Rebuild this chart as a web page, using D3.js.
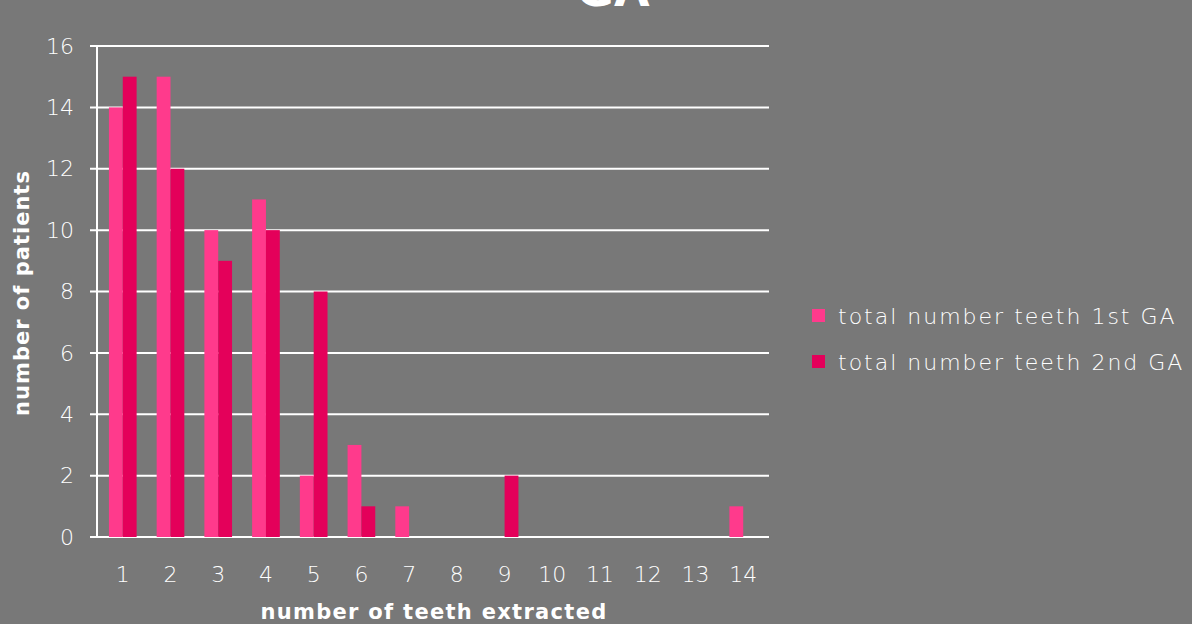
<!DOCTYPE html>
<html>
<head>
<meta charset="utf-8">
<script src="https://cdn.jsdelivr.net/npm/d3@7"></script>
<style>
  body { margin: 0; background: #787878; }
  text { font-family: "DejaVu Sans", sans-serif; fill: #fff; }
</style>
</head>
<body>
<div id="chart"></div>
<script>
// data
var categories = ["1","2","3","4","5","6","7","8","9","10","11","12","13","14"]
var seriesNames = ["total number teeth 1st GA", "total number teeth 2nd GA"]
var firstGA  = [14, 15, 10, 11, 2, 3, 1, 0, 0, 0, 0, 0, 0, 1]
var secondGA = [15, 12, 9, 10, 8, 1, 0, 0, 2, 0, 0, 0, 0, 0]
var yTicks = [0, 2, 4, 6, 8, 10, 12, 14, 16]

var colors = ["#ff3a8c", "#e4005a"]

var W = 1192, H = 624
var pLeft = 97, pRight = 769, pTop = 46, pBottom = 537

var svg = d3.select("#chart").append("svg")
    .attr("width", W)
    .attr("height", H)

svg.append("rect").attr("width", W).attr("height", H).attr("fill", "#787878")

var x = d3.scaleBand().domain(categories).range([pLeft, pRight]).paddingInner(0.42).paddingOuter(0.25)
var xs = d3.scaleBand().domain([0, 1]).range([0, x.bandwidth()])
var y = d3.scaleLinear().domain([0, 16]).range([pBottom, pTop])

// gridlines
svg.selectAll(".grid").data(yTicks)
    .enter().append("line")
    .attr("class", "grid")
    .attr("x1", pLeft - 7)
    .attr("x2", pRight)
    .attr("y1", function(d){return y(d)})
    .attr("y2", function(d){return y(d)})
    .attr("stroke", "#fff")
    .attr("stroke-width", 2)

svg.append("line")
    .attr("x1", pLeft).attr("x2", pLeft)
    .attr("y1", pTop).attr("y2", pBottom)
    .attr("stroke", "#fff").attr("stroke-width", 2)

// y tick labels
svg.selectAll(".ylab").data(yTicks)
    .enter().append("text")
    .attr("class", "ylab")
    .attr("x", 74)
    .attr("y", function(d){return y(d)})
    .attr("dy", "0.35em")
    .attr("text-anchor", "end")
    .style("font-size", "22px")
    .style("font-weight", 200)
    .text(function(d){return d})

// x tick labels
svg.selectAll(".xlab").data(categories)
    .enter().append("text")
    .attr("class", "xlab")
    .attr("x", function(d){return x(d) + x.bandwidth()/2})
    .attr("y", 574)
    .attr("dy", "0.35em")
    .attr("text-anchor", "middle")
    .style("font-size", "22px")
    .style("font-weight", 200)
    .text(function(d){return d})

// bars
var series = [firstGA, secondGA]
series.forEach(function(vals, s){
    svg.selectAll(".bar" + s).data(vals)
        .enter().append("rect")
        .attr("class", "bar" + s)
        .attr("x", function(d,i){return x(categories[i]) + xs(s)})
        .attr("width", xs.bandwidth())
        .attr("y", function(d){return y(d)})
        .attr("height", function(d){return y(0) - y(d)})
        .attr("fill", colors[s])
})

// axis titles
svg.append("text")
    .attr("x", 434)
    .attr("y", 612)
    .attr("dy", "0.35em")
    .attr("text-anchor", "middle")
    .style("font-size", "21px")
    .style("font-weight", "bold")
    .style("letter-spacing", "1.3px")
    .text("number of teeth extracted")

svg.append("text")
    .attr("transform", "translate(22,293) rotate(-90)")
    .attr("dy", "0.35em")
    .attr("text-anchor", "middle")
    .style("font-size", "21px")
    .style("font-weight", "bold")
    .style("letter-spacing", "1px")
    .text("number of patients")

// title (mostly cut off at top)
svg.append("text")
    .attr("x", 613)
    .attr("y", 6)
    .attr("text-anchor", "middle")
    .style("font-size", "46px")
    .style("font-weight", "bold")
    .text("GA")

// legend
var lg = svg.selectAll(".legend").data(seriesNames)
    .enter().append("g")
    .attr("class", "legend")
    .attr("transform", function(d,i){return "translate(812," + (316 + 46*i) + ")"})

lg.append("rect")
    .attr("x", 0).attr("y", -7)
    .attr("width", 13).attr("height", 13)
    .attr("fill", function(d,i){return colors[i]})

lg.append("text")
    .attr("x", 26)
    .attr("dy", "0.35em")
    .style("font-size", "22px")
    .style("font-weight", 200)
    .style("letter-spacing", "2px")
    .text(function(d){return d})
</script>
</body>
</html>
